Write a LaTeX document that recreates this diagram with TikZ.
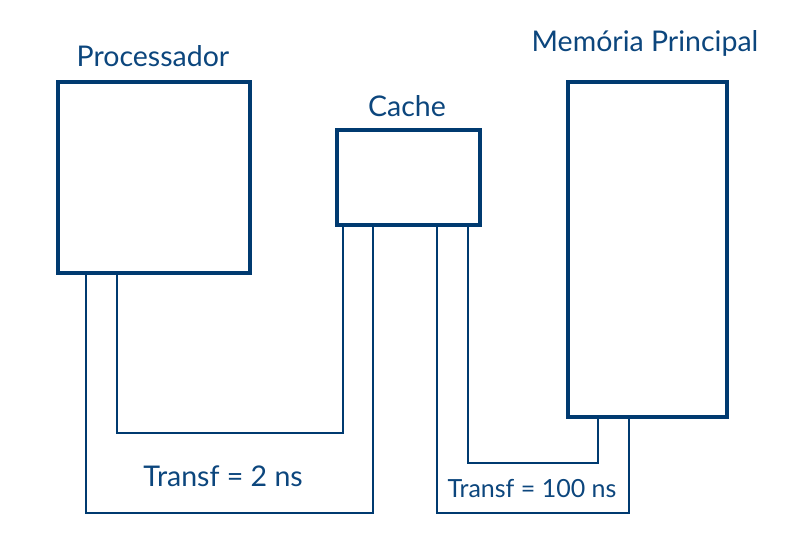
\documentclass[tikz,border=0pt]{standalone}
\usepackage{fontspec}
\setmainfont{Lato}
\definecolor{navy}{RGB}{0,58,112}
\definecolor{txt}{RGB}{12,70,125}
\begin{document}
\begin{tikzpicture}[x=1pt,y=-1pt,
  box/.style={draw=navy,line width=3.6pt,inner sep=0pt,anchor=north west},
  wire/.style={draw=navy,line width=2.4pt,line join=miter},
  lbl/.style={text=txt,font=\fontsize{28.5}{32}\selectfont,inner sep=0pt}]
\useasboundingbox (0,0) rectangle (811,536);
\node[box,minimum width=192pt,minimum height=191pt] (proc) at (56,80) {};
\node[box,minimum width=143pt,minimum height=95pt] (cache) at (335,128) {};
\node[box,minimum width=159pt,minimum height=335pt] (mem) at (566,80) {};
\node[lbl] (lp) at (153,56) {Processador};
\node[lbl] (lc) at (407,106) {Cache};
\node[lbl] (lm) at (645,43) {Memória Principal};
\node[lbl] (t1) at (223,476) {Transf = 2 ns};
\node[lbl,font=\fontsize{25}{28}\selectfont] (t2) at (532,489) {Transf = 100 ns};
% attachment points
\coordinate (p1) at (proc.south west -| 86,0);
\coordinate (p2) at (proc.south west -| 117,0);
\coordinate (c1) at (cache.south west -| 343,0);
\coordinate (c2) at (cache.south west -| 373,0);
\coordinate (c3) at (cache.south west -| 437,0);
\coordinate (c4) at (cache.south west -| 468,0);
\coordinate (m1) at (mem.south west -| 598,0);
\coordinate (m2) at (mem.south west -| 629,0);
\draw[wire] (p2) -- (p2 |- 0,433) -| (c1);
\draw[wire] (p1) -- (p1 |- 0,513) -| (c2);
\draw[wire] (c4) -- (c4 |- 0,463) -| (m1);
\draw[wire] (c3) -- (c3 |- 0,513) -| (m2);
\end{tikzpicture}
\end{document}
